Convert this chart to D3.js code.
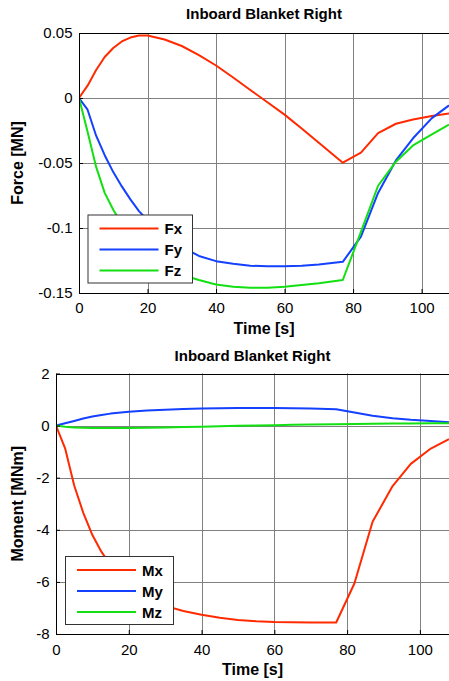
<!DOCTYPE html>
<html>
<head>
<meta charset="utf-8">
<script src="https://cdn.jsdelivr.net/npm/d3@7"></script>
<style>
  body { margin: 0; background: #fff; }
  svg { display: block; font-family: "Liberation Sans", Arial, sans-serif; }
</style>
</head>
<body>
<script>
// time samples [s]
var forceTime = [0, 2.5, 5, 7.5, 10, 12.5, 15, 17.5, 20, 25, 30, 35, 40, 45, 50, 55, 60, 65, 70, 77, 82.3, 87.3, 92.5, 97.5, 103, 108];
var fx = [0, 0.0095, 0.0215, 0.0315, 0.0385, 0.0435, 0.0465, 0.048, 0.048, 0.045, 0.040, 0.033, 0.025, 0.0158, 0.0062, -0.0033, -0.0128, -0.0235, -0.0345, -0.0498, -0.042, -0.027, -0.0198, -0.0165, -0.0138, -0.012];
var fy = [0, -0.009, -0.029, -0.044, -0.057, -0.068, -0.078, -0.087, -0.094, -0.106, -0.1145, -0.1215, -0.1255, -0.1275, -0.129, -0.1295, -0.1295, -0.129, -0.128, -0.126, -0.1067, -0.073, -0.048, -0.031, -0.0155, -0.0057];
var fz = [0, -0.026, -0.053, -0.073, -0.086, -0.097, -0.107, -0.115, -0.121, -0.130, -0.136, -0.140, -0.1435, -0.1452, -0.146, -0.146, -0.1452, -0.1438, -0.1425, -0.140, -0.103, -0.0675, -0.049, -0.0365, -0.028, -0.0205];

var momentTime = [0, 2.5, 5, 7.5, 10, 12.5, 15, 20, 25, 30, 35, 40, 45, 50, 55, 60, 65, 70, 77, 82, 87, 92.5, 97.5, 103, 108];
var mx = [0, -0.87, -2.3, -3.35, -4.2, -4.85, -5.35, -6.1, -6.6, -6.92, -7.12, -7.26, -7.38, -7.46, -7.51, -7.54, -7.55, -7.56, -7.56, -6.06, -3.69, -2.32, -1.47, -0.88, -0.52];
var my = [0, 0.09, 0.18, 0.27, 0.35, 0.41, 0.46, 0.53, 0.58, 0.61, 0.64, 0.66, 0.67, 0.68, 0.68, 0.68, 0.67, 0.66, 0.63, 0.5, 0.38, 0.28, 0.22, 0.18, 0.13];
var mz = [0, -0.04, -0.07, -0.08, -0.09, -0.09, -0.09, -0.09, -0.08, -0.07, -0.055, -0.04, -0.025, -0.01, 0, 0.015, 0.03, 0.04, 0.055, 0.065, 0.075, 0.08, 0.085, 0.09, 0.09];

var timeTicks = [0, 20, 40, 60, 80, 100];
var forceTicks = [-0.15, -0.1, -0.05, 0, 0.05];
var momentTicks = [-8, -6, -4, -2, 0, 2];

var colors = ["#ff2a00", "#1440ff", "#12e012"];

var svg = d3.select("body").append("svg")
    .attr("width", 449)
    .attr("height", 681);

function drawPanel(cfg) {
    var x = d3.scaleLinear().domain([0, 108]).range([cfg.left, 449]);
    var y = d3.scaleLinear().domain(cfg.yDomain).range([cfg.bottom, cfg.top]);
    var g = svg.append("g");
    var clipId = "clip" + cfg.id;

    g.append("clipPath").attr("id", clipId)
      .append("rect")
        .attr("x", cfg.left).attr("y", cfg.top)
        .attr("width", 449 - cfg.left).attr("height", cfg.bottom - cfg.top);

    // grid
    g.append("g").selectAll("line.vg").data(timeTicks).enter().append("line")
        .attr("x1", d => Math.round(x(d)) + 0.5).attr("x2", d => Math.round(x(d)) + 0.5)
        .attr("y1", cfg.top).attr("y2", cfg.bottom)
        .attr("stroke", "#808080").attr("stroke-width", 1);
    g.append("g").selectAll("line.hg").data(cfg.yTicks).enter().append("line")
        .attr("x1", cfg.left).attr("x2", 449)
        .attr("y1", d => Math.round(y(d)) + 0.5).attr("y2", d => Math.round(y(d)) + 0.5)
        .attr("stroke", "#808080").attr("stroke-width", 1);

    // series
    var line = d3.line()
        .x((d, i) => x(cfg.time[i]))
        .y(d => y(d));
    g.append("g").attr("clip-path", "url(#" + clipId + ")")
      .selectAll("path").data(cfg.series).enter().append("path")
        .attr("d", d => line(d))
        .attr("fill", "none")
        .attr("stroke", (d, i) => colors[i])
        .attr("stroke-width", 2)
        .attr("stroke-linejoin", "round");

    // box
    g.append("rect")
        .attr("x", cfg.left + 0.5).attr("y", Math.round(cfg.top) + 0.5)
        .attr("width", 449 - cfg.left).attr("height", Math.round(cfg.bottom) - Math.round(cfg.top))
        .attr("fill", "none").attr("stroke", "#000").attr("stroke-width", 1);

    // axes (labels + inward ticks)
    var xAxis = g.append("g")
        .attr("transform", "translate(0," + cfg.bottom + ")")
        .call(d3.axisBottom(x).tickValues(timeTicks).tickSizeInner(-4).tickSizeOuter(0).tickPadding(cfg.xPad).tickFormat(d => String(d)));
    var yAxis = g.append("g")
        .attr("transform", "translate(" + cfg.left + ",0)")
        .call(d3.axisLeft(y).tickValues(cfg.yTicks).tickSizeInner(-4).tickSizeOuter(0).tickPadding(6.5).tickFormat(d => String(d)));
    [xAxis, yAxis].forEach(function (a) {
        a.select(".domain").remove();
        a.selectAll("line").attr("stroke", "#000");
        a.selectAll("text").attr("font-size", 15).attr("fill", "#000")
            .style("font-family", "'Liberation Sans', Arial, sans-serif");
    });

    // title and labels
    g.append("text")
        .attr("x", (cfg.left + 449) / 2).attr("y", cfg.titleY)
        .attr("text-anchor", "middle")
        .attr("font-size", 15).attr("font-weight", "bold")
        .text("Inboard Blanket Right");
    g.append("text")
        .attr("x", (cfg.left + 449) / 2).attr("y", cfg.xLabelY)
        .attr("text-anchor", "middle")
        .attr("font-size", 16).attr("font-weight", "bold")
        .text("Time [s]");
    g.append("text")
        .attr("transform", "translate(23," + (cfg.top + cfg.bottom) / 2 + ") rotate(-90)")
        .attr("text-anchor", "middle")
        .attr("font-size", 16).attr("font-weight", "bold")
        .text(cfg.yLabel);

    // legend
    var lg = g.append("g").attr("transform", "translate(" + cfg.legX + "," + cfg.legY + ")");
    lg.append("rect")
        .attr("x", 0.5).attr("y", 0.5)
        .attr("width", cfg.legW).attr("height", 68)
        .attr("fill", "#fff").attr("stroke", "#333").attr("stroke-width", 1);
    var item = lg.selectAll("g.item").data(cfg.names).enter().append("g")
        .attr("transform", (d, i) => "translate(0," + (14 + i * 21) + ")");
    item.append("line")
        .attr("x1", 12).attr("x2", 71)
        .attr("stroke", (d, i) => colors[i]).attr("stroke-width", 2);
    item.append("text")
        .attr("x", 77).attr("y", 5.5)
        .attr("font-size", 15).attr("font-weight", "bold")
        .text(d => d);
}

drawPanel({
    id: "f", left: 79, top: 33, bottom: 293,
    yDomain: [-0.15, 0.05], yTicks: forceTicks,
    time: forceTime, series: [fx, fy, fz], names: ["Fx", "Fy", "Fz"],
    yLabel: "Force [MN]", titleY: 19, xLabelY: 334, xPad: 9.5,
    legX: 87.5, legY: 214.5, legW: 104.5
});

drawPanel({
    id: "m", left: 56, top: 373.5, bottom: 634,
    yDomain: [-8, 2], yTicks: momentTicks,
    time: momentTime, series: [mx, my, mz], names: ["Mx", "My", "Mz"],
    yLabel: "Moment [MNm]", titleY: 360.5, xLabelY: 675, xPad: 10,
    legX: 65, legY: 556, legW: 108
});
</script>
</body>
</html>
